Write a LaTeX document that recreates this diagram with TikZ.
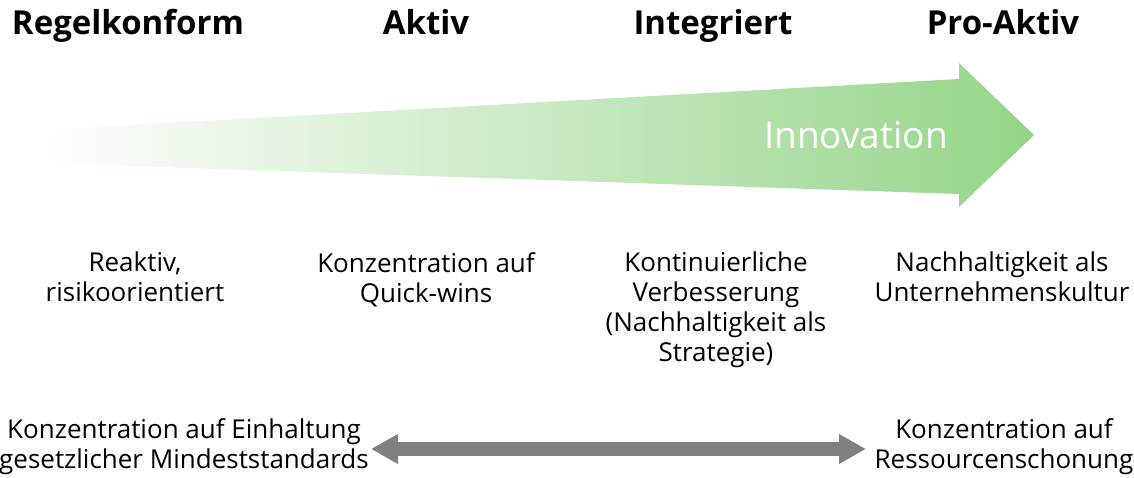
\documentclass[tikz,border=0pt]{standalone}
\usepackage{fontspec}
\setmainfont{Open Sans}
\usetikzlibrary{arrows.meta}
\definecolor{arrowgreen}{HTML}{95D588}
\definecolor{arrowgray}{HTML}{808080}
\begin{document}
\begin{tikzpicture}[x=1pt,y=-1pt,
  title/.style={font=\bfseries\fontsize{33}{40}\selectfont, anchor=base, inner sep=0pt},
  desc/.style={font=\fontsize{26}{30}\selectfont, align=center, anchor=north, inner sep=0pt}]
\useasboundingbox (0,0) rectangle (1134,477);
% big gradient arrow
\shade[left color=white, right color=arrowgreen, shading angle=90]
  (40,130) -- (959,79) -- (959,63) -- (1034,135) -- (959,207) -- (959,194) -- (40,163) -- cycle;
\node[font=\fontsize{37}{42}\selectfont, text=white, inner sep=0pt, anchor=base] (inno) at (856,148) {Innovation};
% titles
\node[title] (t1) at (128,34) {Regelkonform};
\node[title] (t2) at (426,34) {Aktiv};
\node[title] (t3) at (713,34) {Integriert};
\node[title] (t4) at (1003,34) {Pro-Aktiv};
% descriptions
\node[desc] (d1) at (135,252) {Reaktiv,\\risikoorientiert};
\node[desc] (d2) at (426,252) {Konzentration auf\\Quick-wins};
\node[desc] (d3) at (716,252) {Kontinuierliche\\Verbesserung\\(Nachhaltigkeit als\\Strategie)};
\node[desc] (d4) at (1002,252) {Nachhaltigkeit als\\Unternehmenskultur};
% bottom
\node[desc] (b1) at (184,418) {Konzentration auf Einhaltung\\gesetzlicher Mindeststandards};
\node[desc] (b2) at (1004,418) {Konzentration auf\\Ressourcenschonung};
\coordinate (al) at (371,449);
\coordinate (ar) at (866,449);
\draw[arrowgray, line width=14pt, {Triangle[length=27pt,width=28pt]}-{Triangle[length=27pt,width=28pt]}] (al) -- (ar);
\end{tikzpicture}
\end{document}
